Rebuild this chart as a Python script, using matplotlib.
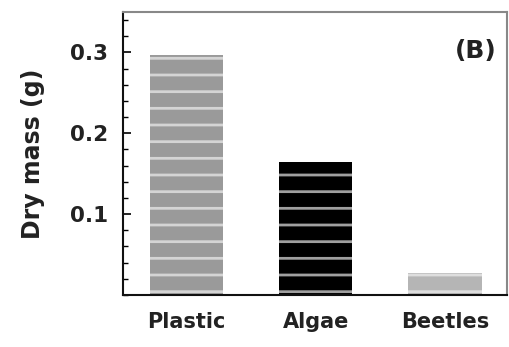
import matplotlib
matplotlib.use("Agg")
import matplotlib.pyplot as plt
from matplotlib.ticker import MultipleLocator, FixedLocator

categories = ["Plastic", "Algae", "Beetles"]
values = [0.297, 0.164, 0.027]
face_colors = ["#9a9a9a", "#000000", "#b5b5b5"]
stripe_colors = ["#d4d4d4", "#a0a0a0", "#dedede"]
yticks = [0.1, 0.2, 0.3]

plt.rcParams['font.family'] = ['DejaVu Sans']
plt.rcParams['hatch.linewidth'] = 2.0

fig = plt.figure(figsize=(5.10, 3.47), dpi=100)
ax = fig.add_axes([123/510, 1 - 295/347, (507-123)/510, (295-12)/347])

x = range(len(categories))
for xi, v, fc, sc in zip(x, values, face_colors, stripe_colors):
    ax.bar(xi, v, width=0.57, color=fc, edgecolor=sc, linewidth=0, hatch='-')

ax.set_xlim(-0.49, 2.48)
ax.set_ylim(0, 0.35)
ax.set_xticks(list(x))
ax.set_xticklabels(categories, fontsize=15, fontweight='bold', color='#222222')
ax.tick_params(axis='x', length=0, pad=12)
ax.yaxis.set_major_locator(FixedLocator(yticks))
ax.yaxis.set_minor_locator(MultipleLocator(0.02))
ax.set_yticklabels([f"{t:.1f}" for t in yticks], fontsize=15.5, fontweight='bold',
                   color='#222222')
ax.tick_params(axis='y', which='major', direction='in', length=6, width=1.2, pad=11)
ax.tick_params(axis='y', which='minor', direction='in', length=3.5, width=1)
ax.set_ylabel("Dry mass (g)", fontsize=17, fontweight='bold', color='#222222',
              labelpad=18)

for s in ['left', 'bottom']:
    ax.spines[s].set_color('#111111')
    ax.spines[s].set_linewidth(1.5)
for s in ['top', 'right']:
    ax.spines[s].set_color('#888888')
    ax.spines[s].set_linewidth(1.5)

ax.text(0.974, 0.862, "(B)", transform=ax.transAxes, ha='right', va='center',
        fontsize=18, fontweight='bold', color='#222222')

fig.savefig("out.png", dpi=100)
